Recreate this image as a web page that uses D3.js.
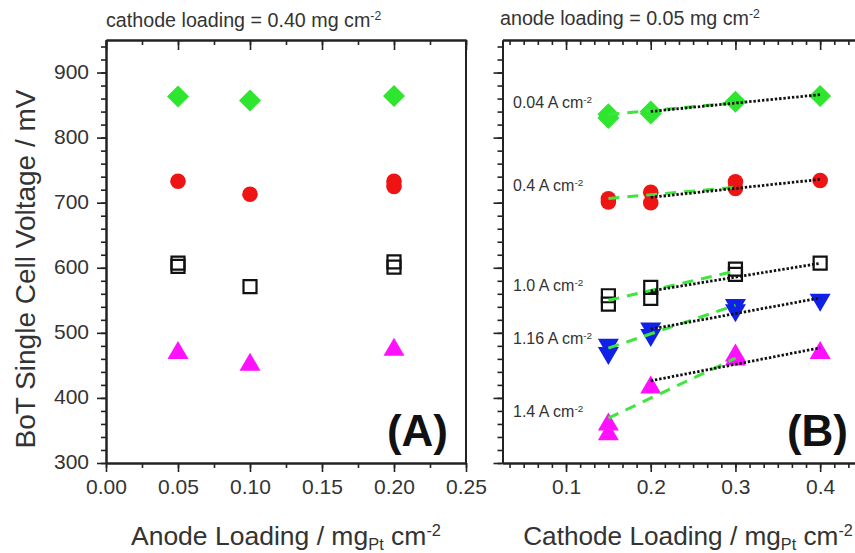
<!DOCTYPE html>
<html>
<head>
<meta charset="utf-8">
<script src="https://cdn.jsdelivr.net/npm/d3@7"></script>
<style>
  html, body { margin: 0; padding: 0; background: #fff; }
  svg { display: block; font-family: Arial, "Liberation Sans", sans-serif; }
</style>
</head>
<body>
<svg id="chart" width="855" height="553"></svg>
<script>
// ---- Data -------------------------------------------------------------
// Voltage axis (shared by both panels)
const voltageTicks = [300, 400, 500, 600, 700, 800, 900];

// Panel A: cell voltage vs anode loading (cathode fixed at 0.40 mg cm-2)
const anodeTicks = [0.00, 0.05, 0.10, 0.15, 0.20, 0.25];
const aDiamondX = [0.05, 0.10, 0.20];
const aDiamondV = [863, 857, 864];
const aCircleX  = [0.05, 0.10, 0.20, 0.20];
const aCircleV  = [733, 713, 733, 725];
const aSquareX  = [0.05, 0.05, 0.10, 0.20, 0.20];
const aSquareV  = [607, 602, 571, 609, 601];
const aTriUpX   = [0.05, 0.10, 0.20];
const aTriUpV   = [473, 455, 478];

// Panel B: cell voltage vs cathode loading (anode fixed at 0.05 mg cm-2)
const cathodeTicks = [0.1, 0.2, 0.3, 0.4];
const bDiamondX = [0.15, 0.15, 0.20, 0.20, 0.30, 0.40];
const bDiamondV = [836, 830, 840, 837, 855, 864];
const bCircleX  = [0.15, 0.15, 0.20, 0.20, 0.30, 0.30, 0.40];
const bCircleV  = [706, 701, 716, 700, 732, 722, 734];
const bSquareX  = [0.15, 0.15, 0.20, 0.20, 0.30, 0.30, 0.40];
const bSquareV  = [557, 544, 570, 553, 598, 590, 607];
const bTriDownX = [0.15, 0.15, 0.20, 0.20, 0.30, 0.30, 0.40];
const bTriDownV = [478, 465, 503, 493, 539, 531, 547];
const bTriUpX   = [0.15, 0.15, 0.20, 0.30, 0.30, 0.40];
const bTriUpV   = [363, 348, 420, 469, 463, 473];

// Linear fits: dashed over the three low loadings, dotted over the three high ones
const fitLowX  = [0.15, 0.30];
const fitHighX = [0.20, 0.40];
const fitLow  = { d: [835.6, 853.7], c: [706.6, 723.5], s: [550, 595], td: [476.5, 542.4], tu: [369, 461] };
const fitHigh = { d: [840.2, 866.0], c: [708.2, 735.8], s: [564.4, 606.9], td: [505.6, 553.6], tu: [426.3, 477] };

// Current density labels in panel B, with the voltage they sit beside
const currentLabels = ["0.04", "0.4", "1.0", "1.16", "1.4"];
const currentLabelV = [845, 718, 565, 483, 370];

// ---- Styles -----------------------------------------------------------
const GREEN = "#2ee62e", RED = "#ee1414", BLUE = "#1020e6", MAGENTA = "#ff10ff";
const TEXT = "#333";

const svg = d3.select("#chart");

const plotTop = 40, plotBottom = 463;
const y = d3.scaleLinear().domain([300, 950]).range([plotBottom, plotTop]);
const xA = d3.scaleLinear().domain([0, 0.25]).range([106, 466]);
const xB = d3.scaleLinear().domain([0.025, 0.45]).range([502.5, 862.5]);

// marker shapes centred on their bounding box
function markerPath(kind) {
  switch (kind) {
    case "diamond": return "M0,-11L11,0L0,11L-11,0Z";
    case "square":  return "M-6.5,-6.5H6.5V6.5H-6.5Z";
    case "triUp":   return "M0,-9.5L10.5,8.5L-10.5,8.5Z";
    case "triDown": return "M0,9.5L10.5,-8.5L-10.5,-8.5Z";
  }
}

function drawMarkers(g, x, xs, vs, kind, color) {
  const pts = xs.map((xv, i) => [xv, vs[i]]);
  if (kind === "circle") {
    g.selectAll(null).data(pts).join("circle")
      .attr("cx", d => x(d[0])).attr("cy", d => y(d[1])).attr("r", 7.8)
      .attr("fill", color);
  } else if (kind === "square") {
    g.selectAll(null).data(pts).join("path")
      .attr("d", markerPath(kind))
      .attr("transform", d => `translate(${x(d[0])},${y(d[1])})`)
      .attr("fill", "none").attr("stroke", "#111").attr("stroke-width", 2.2);
  } else {
    g.selectAll(null).data(pts).join("path")
      .attr("d", markerPath(kind))
      .attr("transform", d => `translate(${x(d[0])},${y(d[1])})`)
      .attr("fill", color);
  }
}

function drawFrame(g, x, majors, minorStep, showYLabels, xFmt) {
  const [x0, x1] = x.range();
  const yMinor = d3.range(300, 951, 20);
  // minor ticks on a grid anchored at the first major tick
  const m0 = majors[0];
  const xMinor = d3.range(-40, 40).map(k => m0 + k * minorStep)
    .filter(v => v >= x.domain()[0] - 1e-9 && v <= x.domain()[1] + 1e-9);

  // each tick set gets its own group so the axis joins don't overwrite each other
  const axisG = (tx, ty) => g.append("g").attr("transform", `translate(${tx},${ty})`);

  // left axis (outward ticks)
  axisG(x0, 0).call(d3.axisLeft(y).tickValues(yMinor).tickSize(5).tickSizeOuter(0).tickFormat(""));
  const left = axisG(x0, 0).call(d3.axisLeft(y).tickValues(voltageTicks).tickSize(9).tickSizeOuter(0)
    .tickFormat(showYLabels ? d3.format("d") : ""));
  left.selectAll("text").attr("font-size", 21).attr("fill", TEXT).attr("x", -17).attr("dy", "0.28em");

  // bottom axis (outward ticks)
  axisG(0, plotBottom).call(d3.axisBottom(x).tickValues(xMinor).tickSize(5).tickSizeOuter(0).tickFormat(""));
  const bot = axisG(0, plotBottom).call(d3.axisBottom(x).tickValues(majors).tickSize(9).tickSizeOuter(0).tickFormat(xFmt));
  bot.selectAll("text").attr("font-size", 21).attr("fill", TEXT).attr("y", 16);

  // top axis (inward ticks)
  axisG(0, plotTop).call(d3.axisBottom(x).tickValues(xMinor).tickSize(5).tickSizeOuter(0).tickFormat(""));
  axisG(0, plotTop).call(d3.axisBottom(x).tickValues(majors).tickSize(10).tickSizeOuter(0).tickFormat(""));

  // right border
  g.append("line").attr("x1", x1).attr("x2", x1).attr("y1", plotTop).attr("y2", plotBottom)
    .attr("stroke", "#222").attr("stroke-width", 2);

  g.selectAll(".domain").attr("stroke", "#222").attr("stroke-width", 2);
  g.selectAll(".tick line").attr("stroke", "#222").attr("stroke-width", 1.6);
}

function addTitle(x, yPos, size, pieces, anchor) {
  const t = svg.append("text").attr("x", x).attr("y", yPos)
    .attr("font-size", size).attr("fill", TEXT).attr("text-anchor", anchor || "start");
  pieces.forEach(p => {
    const s = t.append("tspan").text(p.t);
    if (p.sup) s.attr("font-size", size * 0.62).attr("baseline-shift", "55%");
    if (p.sub) s.attr("font-size", size * 0.62).attr("baseline-shift", "-30%");
  });
  return t;
}

// ---- Panel A ------------------------------------------------------------
const gA = svg.append("g");
drawFrame(gA, xA, anodeTicks, 0.025, true, d3.format(".2f"));
const mA = gA.append("g");
drawMarkers(mA, xA, aDiamondX, aDiamondV, "diamond", GREEN);
drawMarkers(mA, xA, aCircleX, aCircleV, "circle", RED);
drawMarkers(mA, xA, aSquareX, aSquareV, "square");
drawMarkers(mA, xA, aTriUpX, aTriUpV, "triUp", MAGENTA);

// ---- Panel B ------------------------------------------------------------
const gB = svg.append("g");
drawFrame(gB, xB, cathodeTicks, 0.1 / 6, false, d3.format(".1f"));
const mB = gB.append("g");
drawMarkers(mB, xB, bDiamondX, bDiamondV, "diamond", GREEN);
drawMarkers(mB, xB, bCircleX, bCircleV, "circle", RED);
drawMarkers(mB, xB, bSquareX, bSquareV, "square");
drawMarkers(mB, xB, bTriDownX, bTriDownV, "triDown", BLUE);
drawMarkers(mB, xB, bTriUpX, bTriUpV, "triUp", MAGENTA);

const fitLine = d3.line().x(d => xB(d[0])).y(d => y(d[1]));
const lB = gB.append("g");
["d", "c", "s", "td", "tu"].forEach(k => {
  lB.append("path").attr("d", fitLine(fitLowX.map((xv, i) => [xv, fitLow[k][i]])))
    .attr("fill", "none").attr("stroke", "#3ee63e").attr("stroke-width", 3)
    .attr("stroke-dasharray", "11,8");
  lB.append("path").attr("d", fitLine(fitHighX.map((xv, i) => [xv, fitHigh[k][i]])))
    .attr("fill", "none").attr("stroke", "#111").attr("stroke-width", 2.8)
    .attr("stroke-dasharray", "2.4,1.9");
});

currentLabels.forEach((c, i) => {
  addTitle(513, y(currentLabelV[i]), 16,
    [{ t: c + " A cm" }, { t: "-2", sup: true }]);
});

// ---- Titles and panel letters -------------------------------------------
addTitle(106, 27, 19.7, [{ t: "cathode loading = 0.40 mg cm" }, { t: "-2", sup: true }]);
addTitle(500, 25, 19.7, [{ t: "anode loading = 0.05 mg cm" }, { t: "-2", sup: true }]);

addTitle(286, 545, 26.5, [{ t: "Anode Loading / mg" }, { t: "Pt", sub: true }, { t: " cm" }, { t: "-2", sup: true }], "middle");
addTitle(688, 545, 26.2, [{ t: "Cathode Loading / mg" }, { t: "Pt", sub: true }, { t: " cm" }, { t: "-2", sup: true }], "middle");

svg.append("text").attr("transform", "translate(35,269) rotate(-90)")
  .attr("text-anchor", "middle").attr("font-size", 28).attr("fill", TEXT)
  .text("BoT Single Cell Voltage / mV");

svg.append("text").attr("x", 448).attr("y", 446).attr("text-anchor", "end")
  .attr("font-size", 44).attr("font-weight", "bold").attr("fill", "#111").text("(A)");
svg.append("text").attr("x", 848).attr("y", 446).attr("text-anchor", "end")
  .attr("font-size", 44).attr("font-weight", "bold").attr("fill", "#111").text("(B)");
</script>
</body>
</html>
